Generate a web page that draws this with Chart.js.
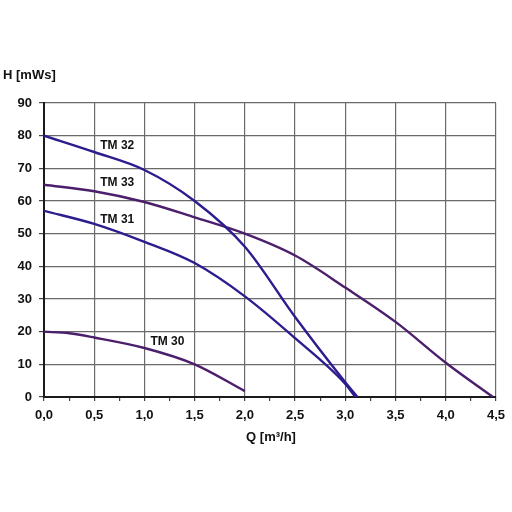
<!DOCTYPE html>
<html>
<head>
<meta charset="utf-8">
<script src="https://cdn.jsdelivr.net/npm/chart.js@4"></script>
<style>
  html, body { margin: 0; padding: 0; background: #fff; }
  #wrap { width: 512px; height: 512px; }
</style>
</head>
<body>
<div id="wrap"><canvas id="pumpChart" width="512" height="512"></canvas></div>
<script>
// Pump curves, Q [m3/h] vs H [mWs]
const qTM32 = [0, 0.5, 1.0, 1.5, 2.0, 2.5, 3.0, 3.12];
const hTM32 = [80, 75, 69.5, 60, 46, 24.5, 4.5, 0];
const qTM33 = [0, 0.5, 1.0, 1.5, 2.0, 2.5, 3.0, 3.5, 4.0, 4.47];
const hTM33 = [65, 63, 59.7, 55, 50, 43.3, 33.5, 23, 10.5, 0];
const qTM31 = [0, 0.5, 1.0, 1.5, 2.0, 2.5, 3.0, 3.1];
const hTM31 = [57, 53, 47.5, 41, 30.8, 18, 4, 0];
const qTM30 = [0, 0.25, 0.5, 1.0, 1.5, 2.0];
const hTM30 = [20, 19.5, 18.2, 15, 10, 1.8];

const curveNames = ['TM 32', 'TM 33', 'TM 31', 'TM 30'];
// label anchor (Q, H) for each curve name
const labelQ = [0.56, 0.56, 0.56, 1.06];
const labelH = [76.8, 65.7, 54.4, 16.8];

const xTicks = [0, 0.5, 1.0, 1.5, 2.0, 2.5, 3.0, 3.5, 4.0, 4.5];
const yTicks = [0, 10, 20, 30, 40, 50, 60, 70, 80, 90];

const BLUE = '#2b1d8e';
const PURPLE = '#4b1f6b';
const FONT = '"Liberation Sans", Arial, sans-serif';

function pts(qs, hs) {
    return qs.map((q, i) => ({ x: q, y: hs[i] }));
}

function curve(label, qs, hs, color) {
    return {
        label,
        data: pts(qs, hs),
        borderColor: color,
        borderWidth: 2.4,
        pointRadius: 0,
        fill: false,
        cubicInterpolationMode: 'monotone',
    };
}

const textPlugin = {
    id: 'chartText',
    afterDraw(chart) {
        const { ctx, scales: { x, y } } = chart;
        ctx.save();
        ctx.fillStyle = '#111';
        ctx.font = 'bold 12px ' + FONT;
        ctx.textBaseline = 'middle';
        ctx.textAlign = 'left';
        curveNames.forEach((name, i) => {
            ctx.fillText(name, x.getPixelForValue(labelQ[i]), y.getPixelForValue(labelH[i]));
        });
        ctx.font = 'bold 13px ' + FONT;
        ctx.fillText('H [mWs]', 3, 75);
        ctx.textAlign = 'center';
        ctx.fillText('Q [m³/h]', 271, 437);
        ctx.restore();
    }
};

const ctx = document.getElementById('pumpChart').getContext('2d');
new Chart(ctx, {
    type: 'line',
    data: {
        datasets: [
            curve('TM 32', qTM32, hTM32, BLUE),
            curve('TM 33', qTM33, hTM33, PURPLE),
            curve('TM 31', qTM31, hTM31, BLUE),
            curve('TM 30', qTM30, hTM30, PURPLE),
        ]
    },
    options: {
        responsive: false,
        animation: false,
        devicePixelRatio: 1,
        layout: { padding: { top: 103, right: 16, left: 0, bottom: 0 } },
        plugins: { legend: { display: false }, tooltip: { enabled: false } },
        scales: {
            x: {
                type: 'linear',
                min: 0, max: 4.5,
                afterFit: s => { s.height = 115; },
                afterBuildTicks: s => {
                    const t = [];
                    for (let i = 0; i <= 18; i++) t.push({ value: i * 0.25 });
                    s.ticks = t;
                },
                border: { color: '#1a1a1a', width: 2 },
                grid: {
                    color: c => (xTicks.includes(c.tick && c.tick.value) ? '#6a6a6a' : 'transparent'),
                    tickColor: '#444',
                    tickLength: 4,
                    lineWidth: 1.2,
                },
                ticks: {
                    color: '#111',
                    padding: 7,
                    maxRotation: 0,
                    autoSkip: false,
                    font: { family: FONT, size: 13, weight: 'bold' },
                    callback: v => (xTicks.includes(v) ? v.toFixed(1).replace('.', ',') : ''),
                }
            },
            y: {
                type: 'linear',
                min: 0, max: 90,
                afterFit: s => { s.width = 44; },
                afterBuildTicks: s => { s.ticks = yTicks.map(v => ({ value: v })); },
                border: { color: '#1a1a1a', width: 2 },
                grid: { color: '#6a6a6a', tickColor: '#444', tickLength: 5, lineWidth: 1.2 },
                ticks: {
                    color: '#111',
                    padding: 7,
                    font: { family: FONT, size: 13, weight: 'bold' },
                }
            }
        }
    },
    plugins: [textPlugin]
});
</script>
</body>
</html>
